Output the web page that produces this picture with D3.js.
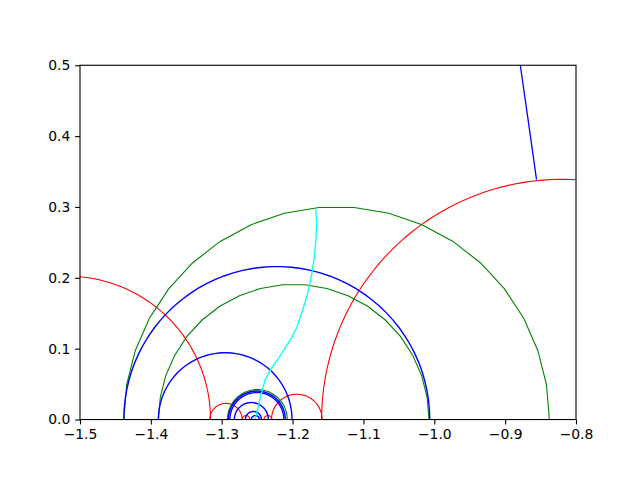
<!DOCTYPE html>
<html>
<head>
<meta charset="utf-8">
<script src="https://cdn.jsdelivr.net/npm/d3@7"></script>
<style>
  body { margin: 0; background: #fff; }
  text { font-family: "DejaVu Sans", sans-serif; }
</style>
</head>
<body>
<svg id="chart" width="640" height="480"></svg>
<script>
// semicircles on the real axis: [centre, radius]
var redArcs = [[-1.5181, 0.2023], [-0.820, 0.339], [-1.294, 0.0228], [-1.194, 0.0357],
               [-1.2657, 0.0056], [-1.2347, 0.0056]];
var blueArcs = [[-1.2223, 0.2159], [-1.2951, 0.0943], [-1.2504, 0.0402], [-1.2504, 0.0381],
                [-1.2582, 0.0240], [-1.2553, 0.0113], [-1.2525, 0.0056]];
var greenArcs = [[-1.1379, 0.3003], [-1.1984, 0.1909], [-1.2497, 0.0423]];
var cyanPath = [[-1.1674, 0.2992], [-1.1660, 0.2774], [-1.1670, 0.2533], [-1.1698, 0.2251],
                [-1.1740, 0.1997], [-1.1797, 0.1743], [-1.1867, 0.1517], [-1.1938, 0.1306],
                [-1.2008, 0.1164], [-1.2107, 0.1009], [-1.2206, 0.0853], [-1.2305, 0.0712],
                [-1.2389, 0.0557], [-1.2446, 0.0346], [-1.2495, 0.0134], [-1.2530, 0.0]];
var blueLine = [[-0.8786, 0.5], [-0.8672, 0.42], [-0.8557, 0.3387]];
var xTicks = [-1.5, -1.4, -1.3, -1.2, -1.1, -1.0, -0.9, -0.8];
var yTicks = [0.0, 0.1, 0.2, 0.3, 0.4, 0.5];

var margin = {left: 80, right: 576, top: 65.26, bottom: 419.54};

var x = d3.scaleLinear().domain([-1.5, -0.8]).range([margin.left, margin.right]);
var y = d3.scaleLinear().domain([0, 0.5]).range([margin.bottom, margin.top]);

var svg = d3.select("#chart");
svg.append("clipPath").attr("id", "clip")
   .append("rect").attr("x", margin.left).attr("y", margin.top)
   .attr("width", margin.right - margin.left).attr("height", margin.bottom - margin.top);

var plot = svg.append("g").attr("clip-path", "url(#clip)");
var line = d3.line().x(function(d) { return x(d[0]); }).y(function(d) { return y(d[1]); });

function arcPoints(a, n) {
  return d3.range(n).map(function(i) {
    var t = Math.PI * i / (n - 1);
    return [a[0] + a[1] * Math.cos(t), a[1] * Math.sin(t)];
  });
}

function drawArcs(arcs, color, n, width) {
  plot.selectAll(null)
      .data(arcs)
    .enter().append("path")
      .attr("d", function(d) { return line(arcPoints(d, n)); })
      .attr("fill", "none")
      .attr("stroke", color)
      .attr("stroke-width", width);
}

drawArcs(redArcs, "#ff0000", 120, 1.1);
drawArcs(greenArcs, "#008000", 20, 1.1);
drawArcs(blueArcs, "#0000ff", 50, 1.4);

plot.append("path").attr("d", line(cyanPath))
    .attr("fill", "none").attr("stroke", "#00ffff").attr("stroke-width", 1.3);
plot.append("path").attr("d", line(blueLine))
    .attr("fill", "none").attr("stroke", "#0000ff").attr("stroke-width", 1.3);

// axes
var xAxis = d3.axisBottom(x).tickValues(xTicks).tickSize(4.86).tickPadding(4.86)
    .tickFormat(function(d) { return d3.format(".1f")(d).replace("-", "\u2212"); });
var yAxis = d3.axisLeft(y).tickValues(yTicks).tickSize(4.86).tickPadding(4.86)
    .tickFormat(d3.format(".1f"));

var gx = svg.append("g").attr("transform", "translate(0," + margin.bottom + ")").call(xAxis);
var gy = svg.append("g").attr("transform", "translate(" + margin.left + ",0)").call(yAxis);
[gx, gy].forEach(function(g) {
  g.select(".domain").remove();
  g.selectAll("line").attr("stroke", "#000").attr("stroke-width", 1.1);
  g.selectAll("text").attr("fill", "#000").style("font-size", "13.9px")
   .style("font-family", "'DejaVu Sans', sans-serif");
});

svg.append("rect").attr("x", margin.left).attr("y", margin.top)
   .attr("width", margin.right - margin.left).attr("height", margin.bottom - margin.top)
   .attr("fill", "none").attr("stroke", "#000").attr("stroke-width", 1.1);
</script>
</body>
</html>
